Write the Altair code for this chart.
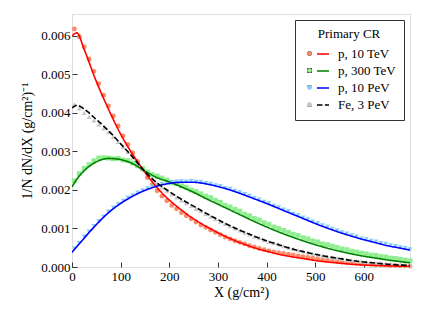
import altair as alt
import pandas as pd

labels = ["p, 10 TeV", "p, 300 TeV", "p, 10 PeV", "Fe, 3 PeV"]
line_colors = ["#ff0000", "#008000", "#0000ff", "#000000"]
point_colors = ["#f98b68", "#90ee90", "#87cefa", "#c8c8c8"]
point_shapes = ["circle", "square", "triangle-down", "triangle-up"]
dashes = [[1, 0], [1, 0], [1, 0], [5.5, 2.4]]

x_ticks = [0, 100, 200, 300, 400, 500, 600]
y_ticks = [0.0, 0.001, 0.002, 0.003, 0.004, 0.005, 0.006]

# simulated (binned) points, bin centres
x_pts = [5, 15, 25, 35, 45, 55, 65, 75, 85, 95,
         105, 115, 125, 135, 145, 155, 165, 175, 185, 195,
         205, 215, 225, 235, 245, 255, 265, 275, 285, 295,
         305, 315, 325, 335, 345, 355, 365, 375, 385, 395,
         405, 415, 425, 435, 445, 455, 465, 475, 485, 495,
         505, 515, 525, 535, 545, 555, 565, 575, 585, 595,
         605, 615, 625, 635, 645, 655, 665, 675, 685, 695]

red_pts = [0.00618, 0.00598, 0.00572, 0.00540, 0.00508, 0.00476, 0.00446, 0.00418, 0.00392, 0.00366,
           0.00340, 0.00318, 0.00296, 0.00274, 0.00254, 0.00232, 0.00214, 0.00198, 0.00184, 0.00172,
           0.00160, 0.00151, 0.00141, 0.00133, 0.00125, 0.00117, 0.00109, 0.00103, 0.00096, 0.00090,
           0.00084, 0.00078, 0.00073, 0.00068, 0.00064, 0.00060, 0.00055, 0.00052, 0.00048, 0.00045,
           0.00042, 0.00039, 0.00037, 0.00035, 0.00033, 0.00031, 0.00029, 0.00027, 0.00025, 0.00023,
           0.00021, 0.00019, 0.00018, 0.00016, 0.00015, 0.00013, 0.00012, 0.00011, 0.00010, 0.00009,
           0.00008, 0.00007, 0.00006, 0.00006, 0.00005, 0.00004, 0.00004, 0.00003, 0.00003, 0.00002]

green_pts = [0.00224, 0.00242, 0.00256, 0.00266, 0.00276, 0.00283, 0.00284, 0.00283, 0.00281, 0.00282,
             0.00278, 0.00276, 0.00270, 0.00263, 0.00256, 0.00247, 0.00240, 0.00236, 0.00231, 0.00226,
             0.00219, 0.00216, 0.00211, 0.00207, 0.00200, 0.00196, 0.00190, 0.00184, 0.00180, 0.00173,
             0.00168, 0.00160, 0.00156, 0.00150, 0.00145, 0.00137, 0.00133, 0.00126, 0.00122, 0.00115,
             0.00111, 0.00104, 0.00100, 0.00095, 0.00090, 0.00085, 0.00082, 0.00076, 0.00073, 0.00068,
             0.00065, 0.00060, 0.00058, 0.00054, 0.00051, 0.00047, 0.00045, 0.00041, 0.00039, 0.00036,
             0.00034, 0.00031, 0.00030, 0.00027, 0.00026, 0.00023, 0.00022, 0.00020, 0.00018, 0.00016]

blue_pts = [0.00048, 0.00062, 0.00079, 0.00092, 0.00106, 0.00119, 0.00131, 0.00144, 0.00154, 0.00163,
            0.00172, 0.00180, 0.00186, 0.00193, 0.00199, 0.00204, 0.00209, 0.00213, 0.00216, 0.00219,
            0.00221, 0.00222, 0.00223, 0.00222, 0.00223, 0.00221, 0.00221, 0.00218, 0.00216, 0.00212,
            0.00210, 0.00205, 0.00203, 0.00198, 0.00194, 0.00189, 0.00185, 0.00179, 0.00175, 0.00169,
            0.00165, 0.00159, 0.00155, 0.00149, 0.00145, 0.00138, 0.00134, 0.00128, 0.00124, 0.00118,
            0.00114, 0.00108, 0.00104, 0.00099, 0.00095, 0.00090, 0.00087, 0.00082, 0.00079, 0.00074,
            0.00072, 0.00068, 0.00066, 0.00062, 0.00060, 0.00056, 0.00054, 0.00051, 0.00049, 0.00046]

gray_pts = [0.00422, 0.00412, 0.00400, 0.00390, 0.00381, 0.00370, 0.00360, 0.00350, 0.00338, 0.00325,
            0.00312, 0.00298, 0.00284, 0.00270, 0.00256, 0.00242, 0.00229, 0.00217, 0.00207, 0.00197,
            0.00189, 0.00181, 0.00173, 0.00166, 0.00159, 0.00151, 0.00145, 0.00138, 0.00131, 0.00124,
            0.00118, 0.00112, 0.00106, 0.00100, 0.00095, 0.00089, 0.00085, 0.00079, 0.00075, 0.00070,
            0.00066, 0.00062, 0.00058, 0.00054, 0.00051, 0.00047, 0.00044, 0.00041, 0.00038, 0.00035,
            0.00032, 0.00030, 0.00027, 0.00025, 0.00023, 0.00021, 0.00019, 0.00018, 0.00016, 0.00015,
            0.00013, 0.00012, 0.00011, 0.00010, 0.00009, 0.00008, 0.00007, 0.00006, 0.00006, 0.00005]

# fitted curves
x_line = [0, 10, 25, 50, 75, 100, 125, 150, 175, 200, 225, 250, 275, 300, 325,
          350, 375, 400, 425, 450, 475, 500, 525, 550, 575, 600, 625, 650, 675, 695]

red_line = [0.00600, 0.00608, 0.00565, 0.00482, 0.00410, 0.00345, 0.00292, 0.00246, 0.00206, 0.00174,
            0.00148, 0.00125, 0.00106, 0.00089, 0.00074, 0.00061, 0.00050, 0.00041, 0.00033, 0.00027,
            0.00022, 0.00017, 0.00013, 0.00010, 0.00007, 0.00005, 0.00004, 0.00003, 0.00002, 0.00001]
green_line = [0.00208, 0.00228, 0.00250, 0.00273, 0.00282, 0.00279, 0.00268, 0.00249, 0.00232, 0.00221,
              0.00208, 0.00194, 0.00178, 0.00163, 0.00148, 0.00133, 0.00118, 0.00104, 0.00091, 0.00079,
              0.00068, 0.00058, 0.00049, 0.00041, 0.00034, 0.00028, 0.00023, 0.00018, 0.00014, 0.00011]
blue_line = [0.00038, 0.00053, 0.00075, 0.00110, 0.00141, 0.00165, 0.00184, 0.00199, 0.00210, 0.00217,
             0.00220, 0.00220, 0.00216, 0.00209, 0.00200, 0.00189, 0.00177, 0.00165, 0.00152, 0.00139,
             0.00126, 0.00113, 0.00101, 0.00090, 0.00080, 0.00071, 0.00063, 0.00055, 0.00049, 0.00044]
black_line = [0.00413, 0.00420, 0.00410, 0.00383, 0.00354, 0.00320, 0.00285, 0.00248, 0.00218, 0.00196,
              0.00176, 0.00158, 0.00140, 0.00123, 0.00107, 0.00093, 0.00080, 0.00068, 0.00058, 0.00048,
              0.00040, 0.00033, 0.00027, 0.00022, 0.00017, 0.00013, 0.00010, 0.00007, 0.00005, 0.00004]

pt_series = [red_pts, green_pts, blue_pts, gray_pts]
ln_series = [red_line, green_line, blue_line, black_line]

pts_rows = []
for lab, ys in zip(labels, pt_series):
    for xv, yv in zip(x_pts, ys):
        pts_rows.append({"X": xv, "Y": yv, "mc": lab})
pts_df = pd.DataFrame(pts_rows)

ln_rows = []
for lab, ys in zip(labels, ln_series):
    for xv, yv in zip(x_line, ys):
        ln_rows.append({"X": xv, "Y": yv, "fit": lab})
ln_df = pd.DataFrame(ln_rows)

FONT = "Liberation Serif"

xscale = alt.Scale(domain=[0, 695], nice=False, zero=False)
yscale = alt.Scale(domain=[0, 0.00657], nice=False)

xaxis = alt.Axis(title="X (g/cm²)", values=x_ticks, format="d", tickSize=5, offset=-5,
                 domain=False, grid=False, labelPadding=3, labelFlush=False, labelOverlap=False,
                 labelFont=FONT, labelFontSize=13, labelColor="black",
                 titleFont=FONT, titleFontSize=14, titleFontWeight="normal", titleColor="black",
                 titlePadding=2, tickColor="#333333", tickWidth=1)
yaxis = alt.Axis(title="1/N dN/dX (g/cm²)⁻¹", values=y_ticks, format=".3f", tickSize=5, offset=-5,
                 domain=False, grid=False, labelPadding=2, labelFlush=False, labelOverlap=False,
                 labelFont=FONT, labelFontSize=13, labelColor="black",
                 titleFont=FONT, titleFontSize=14, titleFontWeight="normal", titleColor="black",
                 titlePadding=6, tickColor="#333333", tickWidth=1)

common_legend = dict(orient="none", legendX=223, legendY=6,
                     titleFont=FONT, titleFontSize=13, titleFontWeight="normal", titleAnchor="middle",
                     titlePadding=6, labelFont=FONT, labelFontSize=13, rowPadding=3)

# marker column of the legend (no visible text, only the symbols)
pt_legend = alt.Legend(title=" ", labelExpr="' '", padding=8,
                       symbolSize=22, symbolStrokeWidth=0, **common_legend)
# line column of the legend, with the title, labels and frame
ln_legend = alt.Legend(title="Primary CR", titleColor="black", labelColor="black", symbolType="stroke",
                       symbolSize=144, symbolStrokeWidth=1.6, symbolOffset=13, labelOffset=8,
                       padding=8, strokeColor="#333333", **common_legend)

points = alt.Chart(pts_df).mark_point(filled=True, size=24, opacity=1, strokeWidth=0).encode(
    x=alt.X("X:Q", scale=xscale, axis=xaxis),
    y=alt.Y("Y:Q", scale=yscale, axis=yaxis),
    shape=alt.Shape("mc:N", sort=labels, scale=alt.Scale(range=point_shapes), legend=pt_legend),
    fill=alt.Fill("mc:N", sort=labels, scale=alt.Scale(range=point_colors), legend=pt_legend),
)

lines = alt.Chart(ln_df).mark_line(strokeWidth=1.6, interpolate="monotone", clip=True).encode(
    x=alt.X("X:Q", scale=xscale),
    y=alt.Y("Y:Q", scale=yscale),
    stroke=alt.Stroke("fit:N", scale=alt.Scale(domain=labels, range=line_colors), legend=ln_legend),
    strokeDash=alt.StrokeDash("fit:N", scale=alt.Scale(domain=labels, range=dashes), legend=ln_legend),
)

chart = alt.layer(points, lines).properties(
    width=338, height=253,
    autosize=alt.AutoSizeParams(type="none"),
    padding={"left": 64, "top": 6, "right": 6, "bottom": 40},
).configure_view(stroke="#333333", strokeWidth=1).configure(background="white")

chart.save("out.html", embed_options={"renderer": "svg", "actions": False})
